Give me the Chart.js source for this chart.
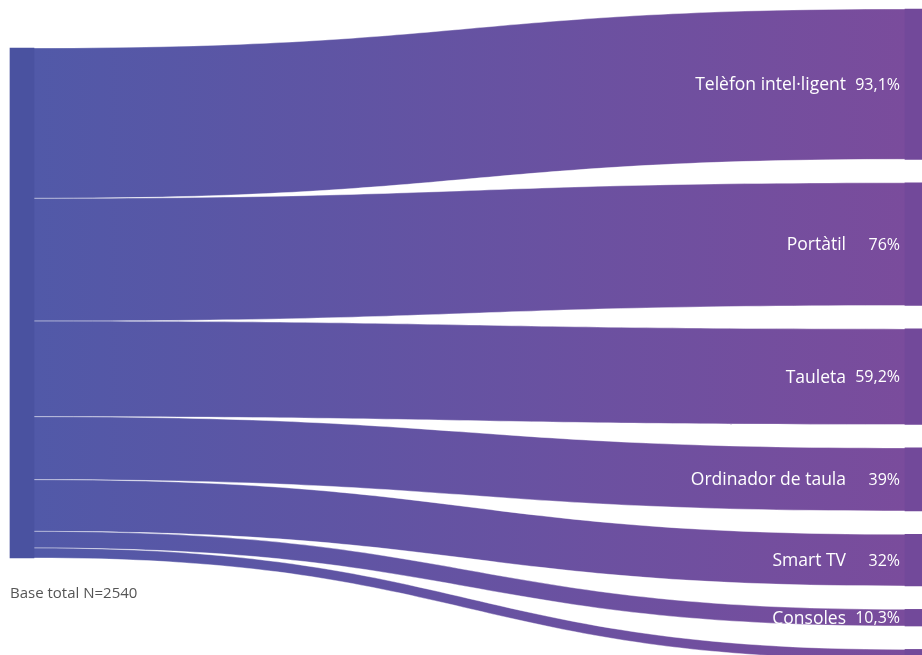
<!DOCTYPE html>
<html>
<head>
<meta charset="utf-8">
<script src="https://cdn.jsdelivr.net/npm/chart.js@4"></script>
<style>
  html, body { margin: 0; padding: 0; background: #fff; }
  #wrap { width: 922px; height: 655px; }
</style>
</head>
<body>
<div id="wrap"><canvas id="grafic" width="922" height="655"></canvas></div>
<script>
// Dades del diagrama (percentatges sobre la base total)
const categories = ["Telèfon intel·ligent", "Portàtil", "Tauleta", "Ordinador de taula", "Smart TV", "Consoles", ""];
const valors = [93.1, 76, 59.2, 39, 32, 10.3, 6.2];
const etiquetaBase = "Base total N=2540";

// Disposició (unitats de l'eix y = punts percentuals)
const PX_PER_UNIT = 1.615;
const topEsquerra = 48 / PX_PER_UNIT;
const topDreta = 9 / PX_PER_UNIT;
const separacio = 23.4 / PX_PER_UNIT;
const xNodeEsq = 22, xNodeDreta = 917, ampleNode = 24;

const totalBase = valors.reduce((a, b) => a + b, 0);

// posicions acumulades de cada flux a l'esquerra i a la dreta
const trams = [];
let accEsq = topEsquerra, accDreta = topDreta;
valors.forEach((v, i) => {
    trams.push({ e0: accEsq, e1: accEsq + v, d0: accDreta, d1: accDreta + v });
    accEsq += v;
    accDreta += v + separacio;
});

const nodes = [{ x: xNodeEsq, y: [topEsquerra, topEsquerra + totalBase] }]
    .concat(trams.map(t => ({ x: xNodeDreta, y: [t.d0, t.d1] })));

function formatPct(v) {
    return String(v).replace(".", ",") + "%";
}

const pluginFluxos = {
    id: "fluxos",
    beforeDatasetsDraw(chart) {
        const { ctx, scales: { x, y } } = chart;
        const x0 = x.getPixelForValue(xNodeEsq + ampleNode / 2);
        const x1 = x.getPixelForValue(xNodeDreta - ampleNode / 2);
        const xm = (x0 + x1) / 2;
        const grad = ctx.createLinearGradient(x0, 0, x1, 0);
        grad.addColorStop(0, "#5159a8");
        grad.addColorStop(1, "#7a4c9c");
        ctx.save();
        trams.forEach(t => {
            const a = y.getPixelForValue(t.e0), b = y.getPixelForValue(t.e1);
            const c = y.getPixelForValue(t.d0), d = y.getPixelForValue(t.d1);
            ctx.beginPath();
            ctx.moveTo(x0, a);
            ctx.bezierCurveTo(xm, a, xm, c, x1, c);
            ctx.lineTo(x1, d);
            ctx.bezierCurveTo(xm, d, xm, b, x0, b);
            ctx.closePath();
            ctx.fillStyle = grad;
            ctx.fill();
            // vores clares només a dalt i a baix
            ctx.lineWidth = 0.8;
            ctx.strokeStyle = "rgba(255,255,255,0.5)";
            ctx.beginPath();
            ctx.moveTo(x0, a);
            ctx.bezierCurveTo(xm, a, xm, c, x1, c);
            ctx.moveTo(x1, d);
            ctx.bezierCurveTo(xm, d, xm, b, x0, b);
            ctx.stroke();
        });
        ctx.restore();
    },
    afterDatasetsDraw(chart) {
        const { ctx, scales: { y } } = chart;
        ctx.save();
        ctx.fillStyle = "#ffffff";
        ctx.textBaseline = "middle";
        ctx.textAlign = "right";
        trams.forEach((t, i) => {
            if (!categories[i]) return;
            const yc = y.getPixelForValue((t.d0 + t.d1) / 2) + 1;
            ctx.font = "17.5px 'Open Sans'";
            ctx.fillText(categories[i], 846, yc);
            ctx.font = "16px 'Open Sans'";
            ctx.fillText(formatPct(valors[i]), 900, yc);
        });
        ctx.fillStyle = "#555555";
        ctx.font = "15px 'Open Sans'";
        ctx.textAlign = "left";
        ctx.fillText(etiquetaBase, 10, y.getPixelForValue(topEsquerra + totalBase) + 36);
        ctx.restore();
    }
};

new Chart(document.getElementById("grafic"), {
    type: "bar",
    data: {
        datasets: [{
            data: nodes,
            backgroundColor: nodes.map((n, i) => i === 0 ? "#4a52a0" : "#72499a"),
            borderWidth: 0,
            barThickness: ampleNode
        }]
    },
    options: {
        responsive: false,
        animation: false,
        layout: { padding: 0 },
        plugins: { legend: { display: false }, tooltip: { enabled: false } },
        scales: {
            x: { type: "linear", min: 0, max: 922, offset: false, display: false },
            y: { type: "linear", min: 0, max: 655 / PX_PER_UNIT, reverse: true, display: false }
        }
    },
    plugins: [pluginFluxos]
});
</script>
</body>
</html>
